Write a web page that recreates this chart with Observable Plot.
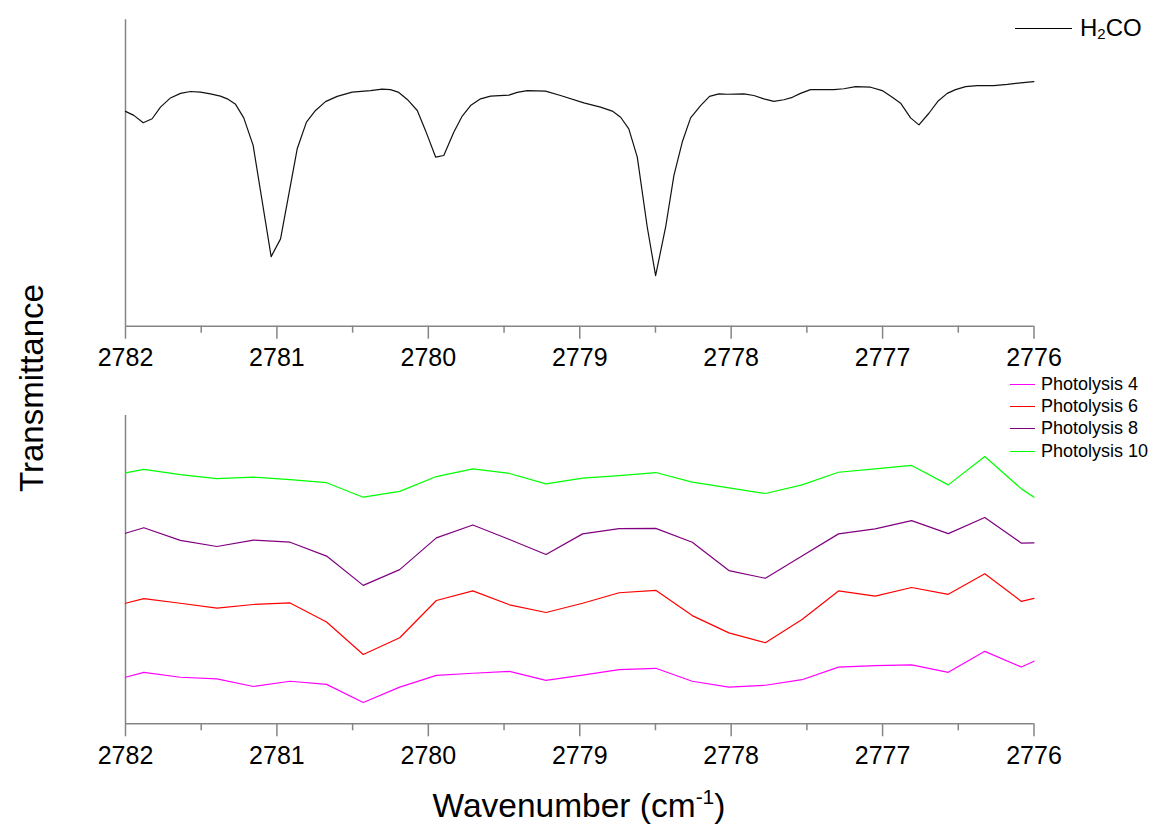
<!DOCTYPE html>
<html>
<head>
<meta charset="utf-8">
<script src="https://cdn.jsdelivr.net/npm/d3@7"></script>
<script src="https://cdn.jsdelivr.net/npm/@observablehq/plot@0.6"></script>
<style>
  html, body { margin: 0; padding: 0; background: #fff; }
  #chart { position: relative; width: 1150px; height: 830px; background: #fff; font-family: "Liberation Sans", Arial, sans-serif; color: #000; overflow: hidden; }
  #top, #bottom { position: absolute; left: 0; }
  #top { top: 0; }
  #bottom { top: 390px; }
  .ylab { position: absolute; left: 32px; top: 388px; transform: translate(-50%, -50%) rotate(-90deg); font-size: 33px; white-space: nowrap; }
  .xlab { position: absolute; left: 579px; top: 806px; transform: translate(-50%, -50%); font-size: 33.5px; white-space: nowrap; }
  .xlab sup { font-size: 21px; vertical-align: 0; position: relative; top: -13px; }
  .leg1 { position: absolute; left: 1015px; top: 14px; font-size: 24px; display: flex; align-items: center; }
  .leg1 .ln { width: 57px; height: 0; border-top: 1.2px solid #000; margin-right: 8px; }
  .leg1 sub { font-size: 15px; position: relative; top: 3px; vertical-align: baseline; }
  .leg2 { position: absolute; left: 1010px; top: 373px; font-size: 18px; }
  .leg2 .row { display: flex; align-items: center; height: 22.3px; }
  .leg2 .ln { width: 25px; height: 0; border-top: 1.3px solid; margin-right: 6px; }
</style>
</head>
<body>
<div id="chart">
  <div id="top"></div>
  <div id="bottom"></div>
  <div class="ylab">Transmittance</div>
  <div class="xlab">Wavenumber (cm<sup>-1</sup>)</div>
  <div class="leg1"><span class="ln"></span><span>H<sub>2</sub>CO</span></div>
  <div class="leg2" id="leg2"></div>
</div>
<script>
// ---- Data (transmittance in arbitrary units) ----
const h2coWavenumber = [2782.000, 2781.945, 2781.883, 2781.824, 2781.769, 2781.703, 2781.637, 2781.571, 2781.505, 2781.439,
  2781.373, 2781.328, 2781.273, 2781.219, 2781.157, 2781.038, 2780.976, 2780.921, 2780.866, 2780.805,
  2780.745, 2780.679, 2780.602, 2780.503, 2780.382, 2780.305, 2780.250, 2780.195, 2780.139, 2780.073,
  2780.019, 2779.952, 2779.898, 2779.832, 2779.776, 2779.721, 2779.655, 2779.589, 2779.468, 2779.413,
  2779.347, 2779.226, 2779.127, 2778.973, 2778.863, 2778.785, 2778.730, 2778.676, 2778.620, 2778.554,
  2778.499, 2778.433, 2778.378, 2778.323, 2778.268, 2778.202, 2778.143, 2778.081, 2778.026, 2777.916,
  2777.850, 2777.784, 2777.718, 2777.652, 2777.596, 2777.542, 2777.476, 2777.322, 2777.256, 2777.178,
  2777.079, 2777.002, 2776.936, 2776.881, 2776.815, 2776.760, 2776.694, 2776.635, 2776.573, 2776.518,
  2776.452, 2776.375, 2776.265, 2776.176, 2776.089, 2776.001];
const h2coTransmittance = [0.701, 0.688, 0.664, 0.677, 0.715, 0.745, 0.760, 0.766, 0.764, 0.758,
  0.751, 0.742, 0.724, 0.680, 0.590, 0.227, 0.285, 0.432, 0.579, 0.666,
  0.704, 0.733, 0.750, 0.764, 0.769, 0.774, 0.772, 0.763, 0.740, 0.704,
  0.639, 0.552, 0.557, 0.633, 0.686, 0.720, 0.742, 0.751, 0.754, 0.763,
  0.769, 0.767, 0.753, 0.729, 0.715, 0.702, 0.682, 0.644, 0.552, 0.323,
  0.165, 0.323, 0.492, 0.601, 0.680, 0.720, 0.750, 0.758, 0.757, 0.758,
  0.753, 0.742, 0.734, 0.739, 0.747, 0.760, 0.772, 0.772, 0.775, 0.782,
  0.780, 0.769, 0.747, 0.728, 0.680, 0.657, 0.695, 0.734, 0.760, 0.772,
  0.782, 0.785, 0.785, 0.789, 0.794, 0.798];

const photoWavenumber = [2782.000, 2781.879, 2781.638, 2781.396, 2781.155, 2780.913, 2780.672, 2780.430, 2780.189,
  2779.947, 2779.706, 2779.464, 2779.223, 2778.981, 2778.740, 2778.498, 2778.257, 2778.015, 2777.774,
  2777.532, 2777.291, 2777.049, 2776.808, 2776.566, 2776.325, 2776.083, 2776.000];
const photolysis4 = [0.151, 0.167, 0.151, 0.146, 0.121, 0.138, 0.128, 0.069, 0.119, 0.157, 0.164, 0.170, 0.141, 0.158,
  0.176, 0.180, 0.138, 0.119, 0.125, 0.143, 0.184, 0.189, 0.191, 0.167, 0.235, 0.184, 0.203];
const photolysis6 = [0.391, 0.406, 0.391, 0.375, 0.387, 0.392, 0.330, 0.225, 0.279, 0.400, 0.431, 0.386, 0.361, 0.391,
  0.425, 0.433, 0.351, 0.295, 0.263, 0.338, 0.431, 0.414, 0.442, 0.420, 0.487, 0.397, 0.407];
const photolysis8 = [0.618, 0.636, 0.595, 0.575, 0.596, 0.589, 0.544, 0.449, 0.500, 0.603, 0.645, 0.598, 0.549, 0.616,
  0.633, 0.634, 0.589, 0.497, 0.472, 0.544, 0.616, 0.632, 0.659, 0.617, 0.669, 0.586, 0.587];
const photolysis10 = [0.814, 0.825, 0.808, 0.795, 0.800, 0.792, 0.782, 0.735, 0.754, 0.802, 0.827, 0.812, 0.778, 0.797,
  0.805, 0.815, 0.784, 0.765, 0.747, 0.775, 0.816, 0.827, 0.838, 0.775, 0.867, 0.762, 0.735];

const seriesNames = ["Photolysis 4", "Photolysis 6", "Photolysis 8", "Photolysis 10"];
const seriesColors = ["#ff00ff", "#ff0000", "#800080", "#00ff00"];
const majorTicks = [2782, 2781, 2780, 2779, 2778, 2777, 2776];
const minorTicks = [2781.5, 2780.5, 2779.5, 2778.5, 2777.5, 2776.5];

// ---- Tables ----
const h2co = h2coWavenumber.map((wn, i) => ({wn, t: h2coTransmittance[i]}));
const seriesValues = [photolysis4, photolysis6, photolysis8, photolysis10];
const photo = seriesNames.flatMap((name, s) => photoWavenumber.map((wn, i) => ({series: name, wn, t: seriesValues[s][i]})));

const axisGray = "#858585";
const baseStyle = {fontFamily: "'Liberation Sans', Arial, sans-serif", fontSize: "25px", color: "black", background: "white", overflow: "visible"};

function axes() {
  return [
    Plot.ruleY([0], {stroke: axisGray, strokeWidth: 1.5}),
    Plot.ruleX([2782], {y1: 0, y2: 1, stroke: axisGray, strokeWidth: 1.5}),
    Plot.axisX({ticks: majorTicks, tickSize: 13, tickPadding: 9, tickFormat: d => String(d), stroke: axisGray, strokeWidth: 1.5, fill: "black", label: null, fontSize: 25}),
    Plot.axisX({ticks: minorTicks, tickSize: 7, tickFormat: () => "", stroke: axisGray, strokeWidth: 1.5, label: null})
  ];
}

const topPlot = Plot.plot({
  width: 1150, height: 390,
  marginLeft: 125, marginRight: 116.5, marginTop: 19.3, marginBottom: 64.3,
  style: baseStyle,
  x: {domain: [2782, 2776], axis: null},
  y: {domain: [0, 1], axis: null},
  marks: [
    ...axes(),
    Plot.line(h2co, {x: "wn", y: "t", stroke: "#111", strokeWidth: 1.2})
  ]
});
document.getElementById("top").appendChild(topPlot);

const bottomPlot = Plot.plot({
  width: 1150, height: 440,
  marginLeft: 125, marginRight: 116.5, marginTop: 25, marginBottom: 106.7,
  style: baseStyle,
  x: {domain: [2782, 2776], axis: null},
  y: {domain: [0, 1], axis: null},
  color: {domain: seriesNames, range: seriesColors},
  marks: [
    ...axes(),
    Plot.line(photo, {x: "wn", y: "t", z: "series", stroke: "series", strokeWidth: 1.2})
  ]
});
document.getElementById("bottom").appendChild(bottomPlot);

// legend for photolysis series
const leg2 = document.getElementById("leg2");
seriesNames.forEach((n, i) => {
  const row = document.createElement("div");
  row.className = "row";
  row.innerHTML = `<span class="ln" style="border-color:${seriesColors[i]}"></span><span>${n}</span>`;
  leg2.appendChild(row);
});
</script>
</body>
</html>
